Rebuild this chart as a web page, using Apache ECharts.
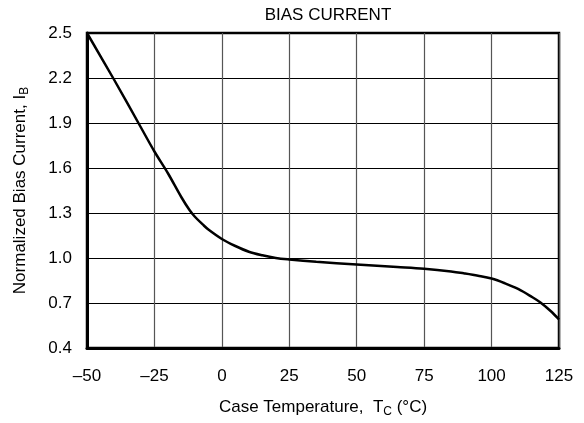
<!DOCTYPE html>
<html>
<head>
<meta charset="utf-8">
<script src="https://cdn.jsdelivr.net/npm/echarts@6/dist/echarts.min.js"></script>
<style>
html,body{margin:0;padding:0;background:#fff;}
#c{width:584px;height:423px;}
</style>
</head>
<body>
<div id="c"></div>
<script>
var titleText = 'BIAS CURRENT';
var temperature = [-50, -40, -30, -25, -20, -15, -12, -10, -7, -5, 0, 5, 10, 15, 20, 25, 35, 50, 65, 75, 85, 90, 95, 100, 105, 110, 115, 118, 122, 125];
var biasCurrent = [2.5, 2.19, 1.87, 1.71, 1.565, 1.405, 1.32, 1.275, 1.222, 1.19, 1.127, 1.08, 1.042, 1.018, 1.0, 0.99, 0.975, 0.957, 0.94, 0.928, 0.91, 0.897, 0.882, 0.863, 0.831, 0.792, 0.74, 0.705, 0.645, 0.59];
var xTicks = [-50, -25, 0, 25, 50, 75, 100, 125];
var yTicks = [0.4, 0.7, 1.0, 1.3, 1.6, 1.9, 2.2, 2.5];

var font = 'Liberation Sans, Arial, sans-serif';
var chart = echarts.init(document.getElementById('c'));
var data = temperature.map(function (t, i) { return [t, biasCurrent[i]]; });

chart.setOption({
  animation: false,
  title: {
    text: titleText, left: 323, top: 2, textAlign: 'center',
    textStyle: { fontFamily: font, fontSize: 17, fontWeight: 'normal', color: '#000' }
  },
  grid: { left: 87, right: 25, top: 33, bottom: 70, show: true, borderColor: '#000', borderWidth: 2.5, backgroundColor: 'transparent' },
  xAxis: {
    type: 'value', min: xTicks[0], max: xTicks[xTicks.length - 1], interval: 25,
    axisLine: { show: true, onZero: false, lineStyle: { color: '#000', width: 3 } },
    axisTick: { show: false },
    splitLine: { show: true, lineStyle: { color: '#555', width: 1.2 } },
    axisLabel: {
      margin: 20, color: '#000', fontFamily: font, fontSize: 17,
      formatter: function (v) { return v < 0 ? '\u2013' + Math.abs(v) : String(v); }
    },
    name: 'Case Temperature,  T{sub|C} (°C)',
    nameLocation: 'middle', nameGap: 48,
    nameTextStyle: {
      color: '#000', fontFamily: font, fontSize: 17,
      rich: { sub: { fontSize: 12, color: '#000', fontFamily: font, padding: [10, 0, 0, 0] } }
    }
  },
  yAxis: {
    type: 'value', min: yTicks[0], max: yTicks[yTicks.length - 1], interval: 0.3,
    axisLine: { show: true, onZero: false, lineStyle: { color: '#000', width: 3 } },
    axisTick: { show: false },
    splitLine: { show: true, lineStyle: { color: '#000', width: 1.2 } },
    axisLabel: {
      margin: 15, color: '#000', fontFamily: font, fontSize: 17,
      formatter: function (v) { return v.toFixed(1); }
    },
    name: 'Normalized Bias Current, I{sub|B}',
    nameLocation: 'middle', nameGap: 56,
    nameTextStyle: {
      color: '#000', fontFamily: font, fontSize: 17,
      rich: { sub: { fontSize: 12, color: '#000', fontFamily: font, padding: [10, 0, 0, 0] } }
    }
  },
  series: [{
    type: 'line', data: data, smooth: 0.35, showSymbol: false,
    lineStyle: { color: '#000', width: 2.5 }
  }]
});
</script>
</body>
</html>
